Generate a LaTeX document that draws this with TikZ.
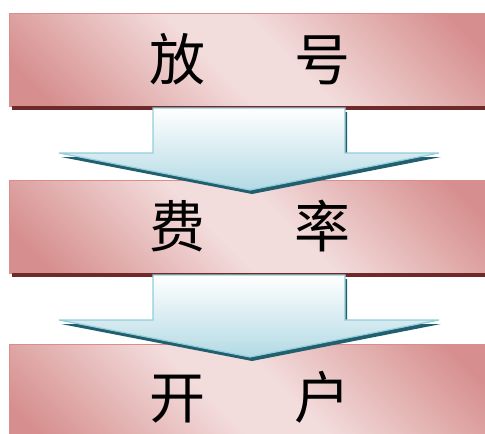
\documentclass[tikz,border=0pt]{standalone}
\usepackage{fontspec}
\newfontfamily\cjk{Noto Sans CJK SC}
\definecolor{boxlight}{HTML}{F3DCDC}
\definecolor{boxdark}{HTML}{D68F8E}
\definecolor{boxline}{HTML}{D98E8C}
\definecolor{boxshadow}{HTML}{6E2A2A}
\definecolor{arrowblue}{HTML}{B3DAE4}
\definecolor{arrowline}{HTML}{92CDDA}
\definecolor{arrowshadow}{HTML}{215F6E}
\pgfdeclarehorizontalshading{boxshade}{100bp}{color(0bp)=(boxdark); color(20bp)=(boxdark); color(45bp)=(boxlight); color(55bp)=(boxlight); color(80bp)=(boxdark); color(100bp)=(boxdark)}
\tikzset{
  stage/.style={draw=boxline, line width=0.8pt, shading=boxshade, shading angle=45,
    minimum width=482pt, minimum height=93pt, inner sep=0pt, text=black,
    font=\cjk\fontsize{56}{60}\selectfont},
  stageshadow/.style={fill=boxshadow},
  flowarrow/.style={draw=arrowline, line width=1.2pt, top color=white, bottom color=arrowblue},
  flowshadow/.style={fill=arrowshadow}
}
\begin{document}
\begin{tikzpicture}[x=1pt,y=-1pt]
    %%%%% FRAME %%%%%
    \useasboundingbox (0,0) rectangle (485,434);
    \clip (0,0) rectangle (485,434);

    %%%%% STAGES %%%%%
    \node[stage] (fanghao) at (250,59.5) {放\hspace{89pt}号};
    \fill[stageshadow] ([xshift=3pt]fanghao.south west) rectangle ([xshift=3pt,yshift=-4pt]fanghao.south east);

    \node[stage] (feilv) at (250,226.5) {费\hspace{89pt}率};
    \fill[stageshadow] ([xshift=3pt]feilv.south west) rectangle ([xshift=3pt,yshift=-4pt]feilv.south east);

    \node[stage, minimum height=106pt] (kaihu) at (250,397) {开\hspace{89pt}户};

    %%%%% ARROWS %%%%%
    \foreach \dy in {0,167}{
      \begin{scope}[yshift=-\dy pt]
        \fill[flowshadow, xshift=2pt, yshift=-4pt] (153,108) -- (345,108) -- (345,153) -- (439,153)
          -- (250,190) -- (59,153) -- (153,153) -- cycle;
        \path[flowarrow] (153,108) -- (345,108) -- (345,153) -- (439,153)
          -- (250,190) -- (59,153) -- (153,153) -- cycle;
      \end{scope}
    }
\end{tikzpicture}
\end{document}
